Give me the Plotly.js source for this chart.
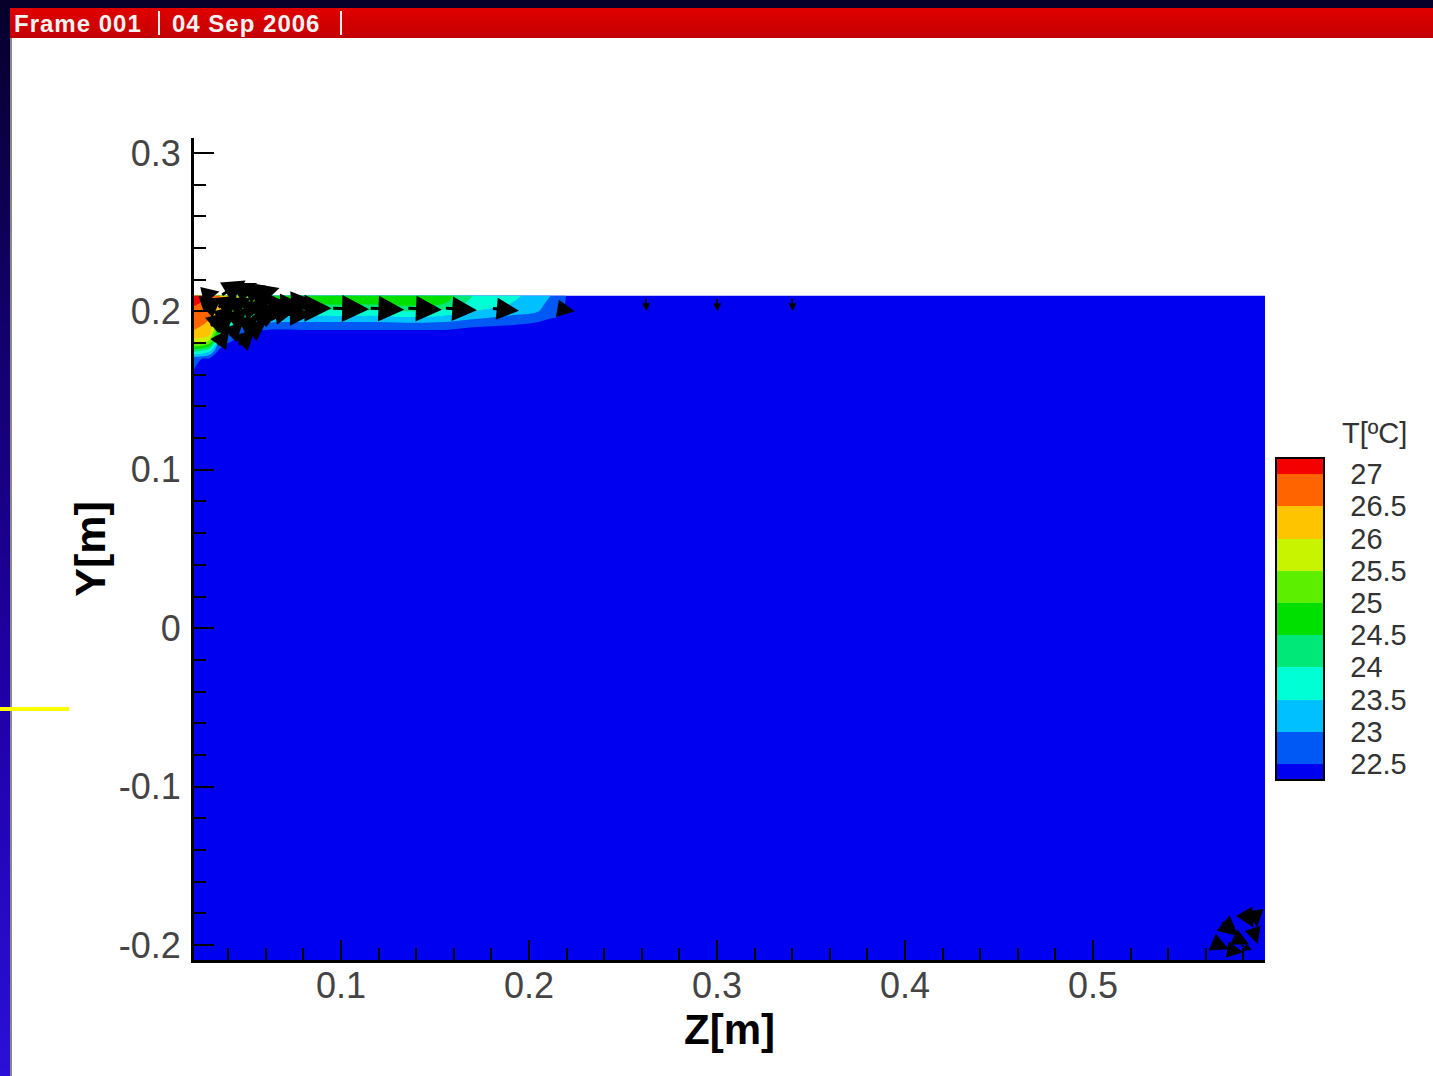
<!DOCTYPE html>
<html><head><meta charset="utf-8">
<script src="https://cdn.plot.ly/plotly-3.0.1.min.js"></script>
<style>
html,body{margin:0;padding:0;background:#fff;}
#wrap{position:relative;width:1433px;height:1076px;overflow:hidden;background:#fff;}
#chart{position:absolute;left:0;top:0;width:1433px;height:1076px;}
#topstrip{position:absolute;left:0;top:0;width:1433px;height:8px;background:#06002a;z-index:5}
#leftstrip{position:absolute;left:0;top:0;width:10px;height:1076px;background:linear-gradient(#06002a,#12006a 30%,#2000a8 65%,#2a10d8);z-index:5}
#leftedge{position:absolute;left:10px;top:38px;width:2px;height:1038px;background:#888;z-index:5}
#header{position:absolute;left:10px;top:8px;width:1423px;height:30px;background:linear-gradient(#e00000,#c40000);z-index:5;color:#f2f2f2;font:bold 24px 'Liberation Sans',Arial,sans-serif;letter-spacing:1px;}
#header span{position:absolute;top:0;line-height:31px;white-space:pre;}
#header i{position:absolute;top:3px;width:2px;height:24px;background:#f0f0f0;}
#yellow{position:absolute;left:0;top:707px;width:69px;height:4px;background:#ffff00;z-index:6}
</style></head>
<body>
<div id="wrap">
  <div id="chart"></div>
  <div id="topstrip"></div>
  <div id="header"><span style="left:4px">Frame 001</span><i style="left:148px"></i><span style="left:162px">04 Sep 2006</span><i style="left:330px"></i></div>
  <div id="leftstrip"></div>
  <div id="leftedge"></div>
  <div id="yellow"></div>
</div>
<script>
// ---- data ----
var zGrid = [0.0218, 0.03, 0.035, 0.04, 0.05, 0.06, 0.08, 0.10, 0.12, 0.14, 0.155, 0.17, 0.19, 0.205, 0.215, 0.222, 0.25, 0.5915];
var yGrid = [-0.2095, 0.15, 0.17, 0.175, 0.18, 0.185, 0.19, 0.195, 0.2, 0.205, 0.21];
var tRow_m0210 = [22.3,22.3,22.3,22.3,22.3,22.3,22.3,22.3,22.3,22.3,22.3,22.3,22.3,22.3,22.3,22.3,22.3,22.3];
var tRow_0150 = [22.3,22.3,22.3,22.3,22.3,22.3,22.3,22.3,22.3,22.3,22.3,22.3,22.3,22.3,22.3,22.3,22.3,22.3];
var tRow_0170 = [22.6,22.4,22.3,22.3,22.3,22.3,22.3,22.3,22.3,22.3,22.3,22.3,22.3,22.3,22.3,22.3,22.3,22.3];
var tRow_0175 = [24.2,23.6,22.4,22.3,22.3,22.3,22.3,22.3,22.3,22.3,22.3,22.3,22.3,22.3,22.3,22.3,22.3,22.3];
var tRow_0180 = [25.6,25.2,23.0,22.5,22.3,22.3,22.3,22.3,22.3,22.3,22.3,22.3,22.3,22.3,22.3,22.3,22.3,22.3];
var tRow_0185 = [26.3,26.0,24.2,23.0,22.4,22.3,22.3,22.3,22.3,22.3,22.3,22.3,22.3,22.3,22.3,22.3,22.3,22.3];
var tRow_0190 = [26.6,26.3,25.0,23.8,22.8,22.6,22.6,22.6,22.6,22.6,22.6,22.5,22.4,22.3,22.3,22.3,22.3,22.3];
var tRow_0195 = [26.7,26.5,25.6,24.6,23.6,23.3,23.2,23.2,23.2,23.3,23.2,23.0,22.8,22.6,22.4,22.3,22.3,22.3];
var tRow_0200 = [26.8,26.6,26.0,25.3,24.6,24.2,23.9,23.9,23.9,24.0,23.8,23.5,23.2,23.0,22.7,22.3,22.3,22.3];
var tRow_0205 = [27.1,26.8,26.4,25.8,25.2,24.9,24.6,24.6,24.6,24.7,24.5,23.8,23.5,23.1,22.8,22.3,22.3,22.3];
var tRow_0210 = [27.3,27.0,26.6,26.0,25.4,25.0,24.8,24.8,24.9,24.95,24.8,24.0,23.7,23.2,22.9,22.3,22.3,22.3];

// velocity vectors: node position (z, y) and components (u, v)
var vecZ = [0.026,0.026,0.028,0.030,0.034,0.034,0.034,0.034,0.036,0.040,0.040,0.040,0.042,0.045,0.046,0.046,0.048,0.050,0.052,0.052,0.054,0.056,0.058,0.062,0.064,0.070,0.070,
            0.058,0.075,0.095,0.115,0.135,0.155,0.180,0.215, 0.262,0.300,0.340,
            0.563,0.568,0.572,0.575,0.580,0.585,0.586,0.578];
var vecY = [0.205,0.210,0.200,0.190,0.178,0.186,0.194,0.202,0.210,0.184,0.193,0.202,0.210,0.178,0.190,0.200,0.210,0.185,0.196,0.205,0.210,0.195,0.203,0.198,0.204,0.205,0.198,
            0.202,0.202,0.202,0.202,0.202,0.202,0.202,0.202, 0.209,0.209,0.209,
            -0.198,-0.185,-0.203,-0.195,-0.178,-0.190,-0.178,-0.200];
var vecU = [0.30,0.35,0.30,0.35,0.25,0.30,0.35,0.40,0.50,0.30,0.40,0.45,0.50,0.35,0.40,0.50,0.45,0.40,0.50,0.50,0.50,0.45,0.60,0.55,0.60,0.60,0.55,
            0.70,0.75,0.75,0.70,0.70,0.65,0.55,0.35, 0.02,0.01,0.01,
            0.35,0.35,0.30,0.30,0.20,0.10,0.05,0.25];
var vecV = [0.10,0.08,0.25,0.30,0.35,0.35,0.30,0.25,0.30,0.30,0.25,0.20,0.25,0.35,0.20,0.15,0.20,0.30,0.15,0.10,0.15,0.20,0.05,0.10,0.00,0.05,0.00,
            0.00,0.00,-0.02,-0.03,-0.03,-0.04,-0.05,-0.06, -0.28,-0.28,-0.28,
            -0.15,-0.30,-0.05,-0.15,-0.35,-0.30,-0.35,-0.10];

var levelVals = [22.5,23,23.5,24,24.5,25,25.5,26,26.5,27];
var levelText = ['22.5','23','23.5','24','24.5','25','25.5','26','26.5','27'];
var xTickVals = [0.1,0.2,0.3,0.4,0.5];
var xTickText = ['0.1','0.2','0.3','0.4','0.5'];
var yTickVals = [-0.2,-0.1,0,0.1,0.2,0.3];
var yTickText = ['-0.2','-0.1','0','0.1','0.2','0.3'];
var bandColors = ['#0000f0','#0058f5','#00c0ff','#00ffd4','#00e878','#00e000','#5cf000','#c8f400','#ffc400','#ff6400','#f40000'];

// ---- build ----
var tGrid = [tRow_m0210,tRow_0150,tRow_0170,tRow_0175,tRow_0180,tRow_0185,tRow_0190,tRow_0195,tRow_0200,tRow_0205,tRow_0210];
var colorscale = bandColors.map(function(c,i){return [i/(bandColors.length-1), c];});
var FONT = 'Liberation Sans, Arial, sans-serif';

var contour = {
  type:'contour', x:zGrid, y:yGrid, z:tGrid,
  colorscale:colorscale, zauto:false, zmin:22.25, zmax:27.25,
  contours:{start:22.5, end:27, size:0.5, coloring:'fill', showlines:false},
  line:{smoothing:1, width:0},
  hoverinfo:'x+y+z',
  colorbar:{
    x:(1276-194)/1071, xanchor:'left', xpad:0,
    y:(960-619)/822, yanchor:'middle', ypad:0,
    len:322/822, lenmode:'fraction',
    thickness:48, thicknessmode:'pixels',
    outlinecolor:'#000', outlinewidth:2,
    tickmode:'array', tickvals:levelVals, ticktext:levelText,
    ticks:'outside', ticklen:20, tickcolor:'rgba(0,0,0,0)',
    tickfont:{family:FONT, size:29, color:'#333'}
  }
};

var k = 0.0266, aspect = 1880/1585;
var annotations = [];
for (var i=0;i<vecZ.length;i++){
  var mag = Math.sqrt(vecU[i]*vecU[i] + vecV[i]*vecV[i]);
  annotations.push({
    x: vecZ[i] + k*vecU[i], y: vecY[i] + k*vecV[i]*aspect,
    ax: vecZ[i], ay: vecY[i], axref:'x', ayref:'y', xref:'x', yref:'y',
    text:'', showarrow:true, arrowhead:2,
    arrowsize: 0.6 + 1.6*mag, arrowwidth: mag >= 0.3 ? 3 : 1.5, arrowcolor:'#000'
  });
}
// colour legend title
annotations.push({xref:'paper', yref:'paper', x:(1374-194)/1071, y:(960-433)/822,
  xanchor:'center', yanchor:'middle', showarrow:false, text:'T[ºC]',
  font:{family:FONT, size:29, color:'#333'}});

var layout = {
  width:1433, height:1076,
  margin:{l:194, r:168, t:138, b:116},
  paper_bgcolor:'#fff', plot_bgcolor:'#fff',
  showlegend:false,
  font:{family:FONT, color:'#333'},
  xaxis:{
    range:[0.0218,0.5915], showgrid:false, zeroline:false,
    showline:true, linecolor:'#000', linewidth:3,
    tickmode:'array', tickvals:xTickVals, ticktext:xTickText,
    ticks:'inside', ticklen:20, tickwidth:2, tickcolor:'#000',
    minor:{tickmode:'linear', tick0:0, dtick:0.02, ticks:'inside', ticklen:12, tickwidth:2, tickcolor:'#000', showgrid:false},
    tickfont:{family:FONT, size:36, color:'#444'},
    ticklabelstandoff:-8,
    title:{text:'Z[m]', standoff:0, font:{family:FONT, size:42, color:'#000', weight:'bold'}}
  },
  yaxis:{
    range:[-0.2095,0.3095], showgrid:false, zeroline:false,
    showline:true, linecolor:'#000', linewidth:3,
    tickmode:'array', tickvals:yTickVals, ticktext:yTickText,
    ticks:'inside', ticklen:20, tickwidth:2, tickcolor:'#000',
    minor:{tickmode:'linear', tick0:0, dtick:0.02, ticks:'inside', ticklen:12, tickwidth:2, tickcolor:'#000', showgrid:false},
    tickfont:{family:FONT, size:36, color:'#444'},
    ticklabelstandoff:3,
    title:{text:'Y[m]', standoff:0, font:{family:FONT, size:43, color:'#000', weight:'bold'}}
  },
  annotations:annotations
};

Plotly.newPlot('chart',[contour],layout,{displayModeBar:false, staticPlot:true});
</script>
</body></html>
